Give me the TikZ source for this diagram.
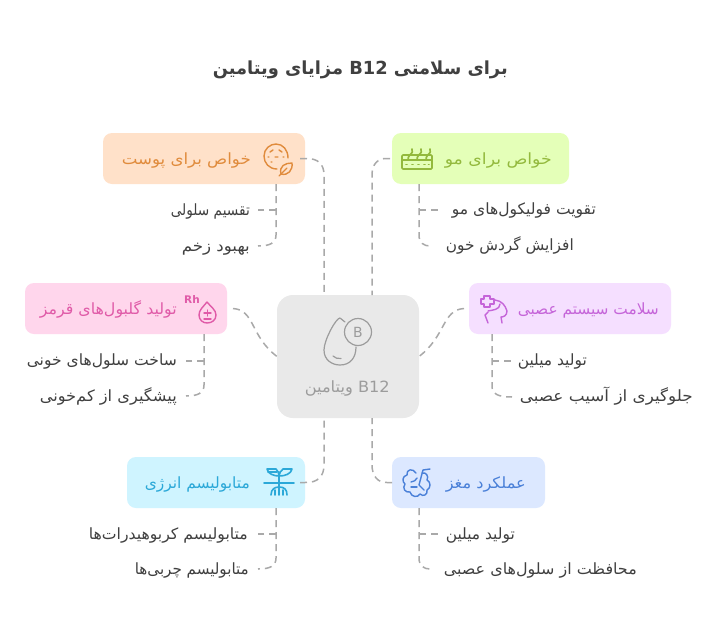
\documentclass[tikz,border=0pt]{standalone}
\usepackage{graphicx}
\usepackage{fontspec}
\setmainfont{DejaVu Sans}
\setsansfont{DejaVu Sans}
\TeXXeTstate=1
\newfontfamily\arabicfont[Script=Arabic]{DejaVu Sans}
\usetikzlibrary{calc}
\newcommand{\fa}[2]{\resizebox{#1pt}{\height}{\arabicfont #2}}
\definecolor{oT}{HTML}{E08B3C}\definecolor{oF}{HTML}{FFE1C9}
\definecolor{gT}{HTML}{93B93D}\definecolor{gF}{HTML}{E4FFB8}
\definecolor{pT}{HTML}{E05BA8}\definecolor{pF}{HTML}{FFD6EC}
\definecolor{vT}{HTML}{C565D9}\definecolor{vF}{HTML}{F5DFFF}
\definecolor{cT}{HTML}{2BA8D8}\definecolor{cF}{HTML}{CFF4FF}
\definecolor{bT}{HTML}{4A80D8}\definecolor{bF}{HTML}{DCE8FF}
\definecolor{mT}{HTML}{9C9C9C}\definecolor{mF}{HTML}{E9E9E9}
\definecolor{lineC}{HTML}{A9A9A9}
\definecolor{ink}{HTML}{404040}
\tikzset{
 boxn/.style={rectangle,rounded corners=9pt,inner sep=0pt,outer sep=0pt},
 head/.style={font=\fontsize{15.5}{17}\selectfont,anchor=base east,inner sep=0pt},
 kid/.style={font=\fontsize{15.5}{17}\selectfont,anchor=base east,inner sep=0pt,text=ink},
 conn/.style={draw=lineC,line width=1.5pt,dash pattern=on 7pt off 5pt},
 icon/.style={line width=1.4pt,line cap=round,line join=round},
}
\begin{document}
\begin{tikzpicture}[x=1pt,y=-1pt]
\useasboundingbox[fill=white] (0,0) rectangle (720,640);
% boxes
\node[boxn,fill=mF,rounded corners=16pt,minimum width=142pt,minimum height=123pt] (center) at (348,356.5) {};
\node[boxn,fill=oF,minimum width=202pt,minimum height=51pt] (skin) at (204,158.5) {};
\node[boxn,fill=gF,minimum width=177pt,minimum height=51pt] (hair) at (480.5,158.5) {};
\node[boxn,fill=pF,minimum width=202pt,minimum height=51pt] (blood) at (126,308.5) {};
\node[boxn,fill=vF,minimum width=202pt,minimum height=51pt] (nerve) at (570,308.5) {};
\node[boxn,fill=cF,minimum width=178pt,minimum height=51pt] (energy) at (216,482.5) {};
\node[boxn,fill=bF,minimum width=153pt,minimum height=51pt] (brain) at (468.5,482.5) {};
% title
\node[anchor=base east,inner sep=0pt,text=ink,font=\bfseries\fontsize{18}{20}\selectfont] (title) at (508,74) {\fa{295}{\beginR برای سلامتی \beginL B12\endL{} مزایای ویتامین\endR}};
% labels
\node[head,text=mT] (centerlab) at (390,392) {\fa{85}{\beginR\beginL B12\endL{} ویتامین\endR}};
\node[head,text=oT] (skinlab) at (251,164) {\fa{129}{\beginR خواص برای پوست\endR}};
\node[head,text=gT] (hairlab) at (552,164) {\fa{107}{\beginR خواص برای مو\endR}};
\node[head,text=pT] (bloodlab) at (177,314) {\fa{137}{\beginR تولید گلبول‌های قرمز\endR}};
\node[head,text=vT] (nervelab) at (659,314) {\fa{141}{\beginR سلامت سیستم عصبی\endR}};
\node[head,text=cT] (energylab) at (250,488) {\fa{105}{\beginR متابولیسم انرژی\endR}};
\node[head,text=bT] (brainlab) at (526,488) {\fa{80}{\beginR عملکرد مغز\endR}};
\node[kid] (k1) at (250,215) {\fa{79}{\beginR تقسیم سلولی\endR}};
\node[kid] (k2) at (250,251) {\fa{68}{\beginR بهبود زخم\endR}};
\node[kid] (k3) at (596,214) {\fa{144}{\beginR تقویت فولیکول‌های مو\endR}};
\node[kid] (k4) at (574,250) {\fa{128}{\beginR افزایش گردش خون\endR}};
\node[kid] (k5) at (177,365) {\fa{150}{\beginR ساخت سلول‌های خونی\endR}};
\node[kid] (k6) at (177,401) {\fa{137}{\beginR پیشگیری از کم‌خونی\endR}};
\node[kid] (k7) at (587,365) {\fa{69}{\beginR تولید میلین\endR}};
\node[kid] (k8) at (693,401) {\fa{173}{\beginR جلوگیری از آسیب عصبی\endR}};
\node[kid] (k9) at (248,539) {\fa{159}{\beginR متابولیسم کربوهیدرات‌ها\endR}};
\node[kid] (k10) at (249,574) {\fa{114}{\beginR متابولیسم چربی‌ها\endR}};
\node[kid] (k11) at (515,539) {\fa{69}{\beginR تولید میلین\endR}};
\node[kid] (k12) at (637,574) {\fa{193}{\beginR محافظت از سلول‌های عصبی\endR}};
% named branch ends
\coordinate (e1) at (258,210);\coordinate (e2) at (258,246);
\coordinate (e3) at (438,210);\coordinate (e4) at (430,246);
\coordinate (e5) at (186,361);\coordinate (e6) at (186,396);
\coordinate (e7) at (512,361);\coordinate (e8) at (512,397);
\coordinate (e9) at (258,534);\coordinate (e10) at (258,569);
\coordinate (e11) at (438,534);\coordinate (e12) at (430,569);
% main connectors
\draw[conn] ($(skin.east)+(-5,0)$) -- ++(5,0) .. controls (318,158) and (324,164) .. (324,175) -- ($(center.north)+(-24,0)$);
\draw[conn] ($(hair.west)+(-2,0)$) -- ++(-3,0) .. controls (378,158) and (372,164) .. (372,175) -- ($(center.north)+(24,0)$);
\draw[conn] ($(energy.east)+(-5,0)$) -- ++(5,0) .. controls (318,483) and (324,476) .. (324,465) -- ($(center.south)+(-24,0)$);
\draw[conn] (brain.west) -- ++(-5,0) .. controls (378,483) and (372,476) .. (372,465) -- ($(center.south)+(24,0)$);
\draw[conn] ($(blood.east)+(6,0)$) .. controls (255,310) and (250,336) .. (center.west);
\draw[conn] ($(nerve.west)+(-5,0)$) .. controls (442,310) and (446,336) .. (center.east);
% child connectors
\draw[conn] ($(skin.south west)+(173,0)$) -- (276,235) .. controls (276,243) and (270,246) .. (e2);
\draw[conn] (276,210) -- (e1);
\draw[conn] ($(hair.south west)+(27,0)$) -- (419,235) .. controls (419,243) and (424,246) .. (e4);
\draw[conn] (419,210) -- (e3);
\draw[conn] ($(blood.south west)+(179,0)$) -- (204,385) .. controls (204,393) and (198,396) .. (e6);
\draw[conn] (204,361) -- (e5);
\draw[conn] ($(nerve.south west)+(23,0)$) -- (492,386) .. controls (492,394) and (498,397) .. (e8);
\draw[conn] (492,361) -- (e7);
\draw[conn] ($(energy.south west)+(149,0)$) -- (276,558) .. controls (276,566) and (270,569) .. (e10);
\draw[conn] (276,534) -- (e9);
\draw[conn] ($(brain.south west)+(27,0)$) -- (419,558) .. controls (419,566) and (424,569) .. (e12);
\draw[conn] (419,534) -- (e11);
% centre icon
\begin{scope}[icon,draw=mT,line width=1.2pt]
\draw (358,332) circle (13.5);
\draw (345,322) -- (340,318) .. controls (336,318) and (324,340) .. (324,350) .. controls (324,360) and (332,365) .. (340,365) .. controls (350,365) and (356,358) .. (356,347);
\draw (333,356) .. controls (335,358) and (338,359) .. (341,358.5);
\node[inner sep=0pt,text=mT,font=\fontsize{14}{15}\selectfont] (bglyph) at (358,332) {B};
\end{scope}
% skin icon
\begin{scope}[icon,draw=oT]
\draw (277,169) .. controls (269,169) and (264,163) .. (264,156) .. controls (264,149) and (270,144) .. (276,144) .. controls (283,144) and (288,150) .. (288,158);
\draw (270,152) -- (273,150) (279,150) -- (282,152) (268,157) -- (269,157) (275,157) -- (278,157) (283,157) -- (284,157) (271,162) -- (272,162);
\draw[fill=oF] (281,174) .. controls (279,166) and (285,163) .. (292,163) .. controls (293,170) and (288,176) .. (281,174) -- cycle;
\draw (279,176) -- (287,168);
\end{scope}
% hair icon
\begin{scope}[icon,draw=gT,line width=1.7pt]
\draw[rounded corners=1pt] (402,155) rectangle (432,169);
\draw (402,160) -- (432,160);
\draw (406,164.5) -- (407,164.5) (412,164.5) -- (413,164.5) (418,164.5) -- (419,164.5) (424,164.5) -- (425,164.5) (428.5,164.5) -- (429,164.5);
\draw (408,160) .. controls (408,153) and (414,155) .. (412,149);
\draw (417,160) .. controls (417,153) and (423,155) .. (421,149);
\draw (426,160) .. controls (426,153) and (432,155) .. (430,149);
\end{scope}
% blood icon
\begin{scope}[icon,draw=pT]
\node[inner sep=0pt,text=pT,font=\bfseries\fontsize{10.5}{11}\selectfont] (rh) at (192,300) {Rh};
\draw (207,302) .. controls (203,307) and (199,310) .. (199,315) .. controls (199,320) and (203,323) .. (207,323) .. controls (212,323) and (216,320) .. (216,315) .. controls (216,310) and (211,307) .. (207,302) -- cycle;
\draw (204,313) -- (211,313) (207.5,310) -- (207.5,316) (204,319) -- (211,319);
\end{scope}
% nerve icon
\begin{scope}[icon,draw=vT]
\draw (484,296) -- (490,296) -- (490,299) -- (494,299) -- (494,304) -- (490,304) -- (490,307) -- (484,307) -- (484,304) -- (481,304) -- (481,299) -- (484,299) -- cycle;
\draw (495,300) .. controls (502,301) and (505,305) .. (507,311) .. controls (507,316) and (503,317) .. (501,317) -- (502,323);
\draw (488,311) .. controls (492,310) and (500,310) .. (500,304);
\draw (488,312) -- (485,315) -- (488,323);
\end{scope}
% energy icon
\begin{scope}[icon,draw=cT,line width=1.6pt]
\draw (264,483) -- (294,483);
\draw (279,472) -- (279,495);
\draw (279,476) .. controls (274,476) and (268,474) .. (267,469) -- (276,469) .. controls (278,471) and (279,473) .. (279,476);
\draw (279,476) .. controls (285,476) and (291,474) .. (292,469) -- (283,469) .. controls (281,471) and (279,473) .. (279,476);
\draw (271,495) .. controls (271,489) and (275,487) .. (279,487) .. controls (284,487) and (287,489) .. (287,495);
\draw (275,495) -- (275,490) (283,495) -- (283,490);
\draw (268,472) -- (277,472);
\end{scope}
% brain icon
\begin{scope}[icon,draw=bT]
\draw (416,473) .. controls (413,468) and (406,469) .. (407,475) .. controls (402,476) and (402,482) .. (405,484) .. controls (402,488) and (405,493) .. (410,492) .. controls (411,497) and (418,498) .. (420,494) .. controls (423,497) and (428,495) .. (427,490) .. controls (431,488) and (431,482) .. (427,480) .. controls (429,476) and (426,472) .. (422,473);
\draw (430,469) -- (423,470) -- (419,485) (419,485) -- (424,490);
\draw (411,482) .. controls (414,482) and (416,480) .. (417,478);
\draw (411,487) -- (417,487);
\end{scope}
\end{tikzpicture}
\end{document}
